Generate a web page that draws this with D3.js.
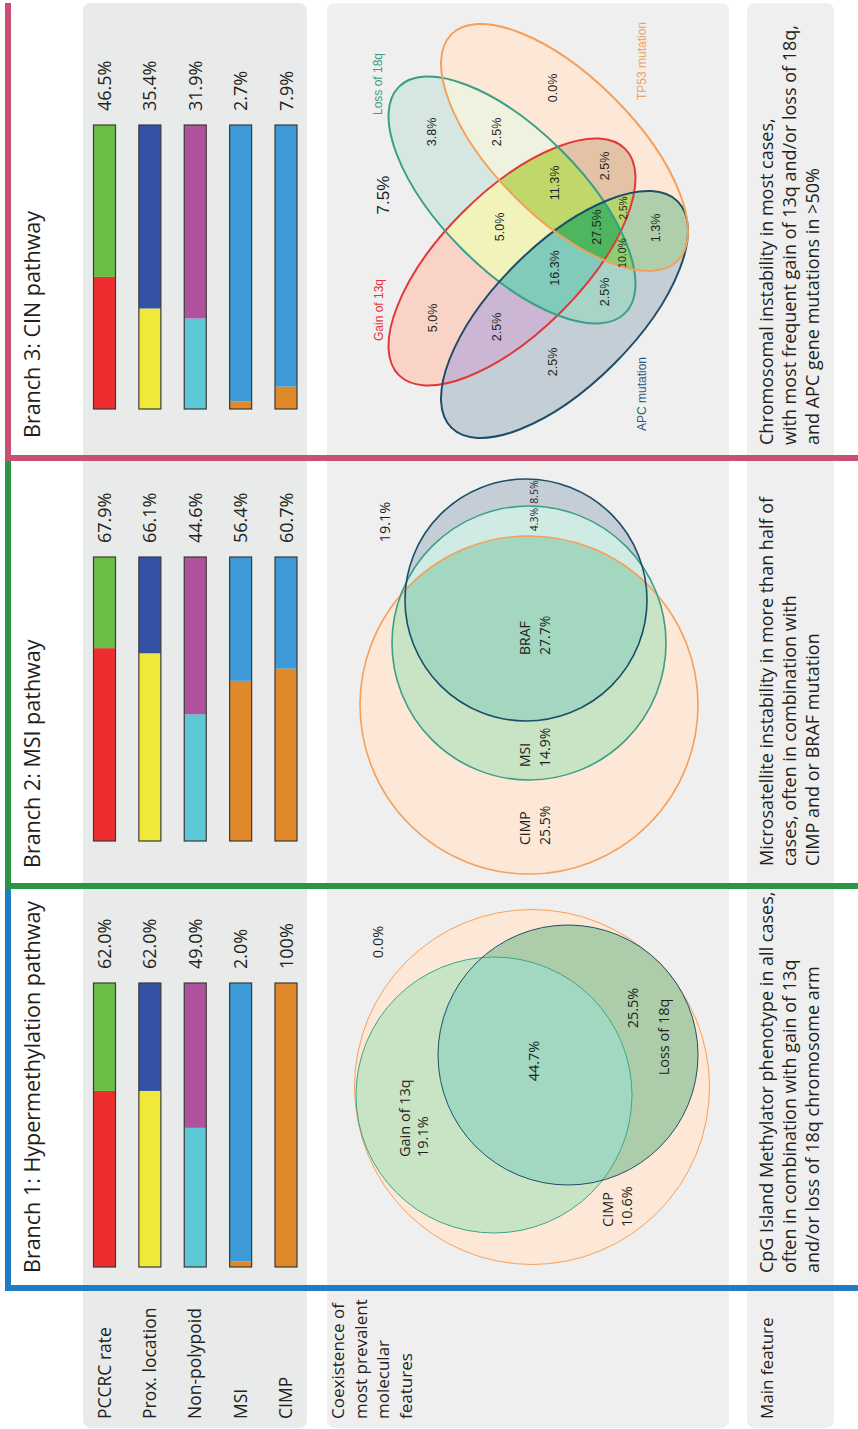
<!DOCTYPE html>
<html>
<head>
<meta charset="utf-8">
<script src="https://cdn.jsdelivr.net/npm/d3@7"></script>
<style>
  body { margin: 0; background: #fff; }
  text { font-family: "Open Sans", sans-serif; fill: #231f20; }
  .arial { font-family: "Liberation Sans", Arial, sans-serif; }
</style>
</head>
<body>
<svg width="858" height="1429"></svg>
<script>
// ---- data ----
const rowLabels = ["PCCRC rate", "Prox. location", "Non-polypoid", "MSI", "CIMP"];
const branchTitles = ["Branch 1: Hypermethylation pathway", "Branch 2: MSI pathway", "Branch 3: CIN pathway"];
const hyperValues = [62.0, 62.0, 49.0, 2.0, 100];
const msiValues = [67.9, 66.1, 44.6, 56.4, 60.7];
const cinValues = [46.5, 35.4, 31.9, 2.7, 7.9];

const coexLabel = ["Coexistence of", "most prevalent", "molecular", "features"];
const mainLabel = "Main feature";
const mainFeatures = [
  ["CpG Island Methylator phenotype in all cases,", "often in combination with gain of 13q", "and/or loss of 18q chromosome arm"],
  ["Microsatellite instability in more than half of", "cases, often in combination with", "CIMP and or BRAF mutation"],
  ["Chromosomal instability in most cases,", "with most frequent gain of 13q and/or loss of 18q,", "and APC gene mutations in >50%"]
];

// venn regions: key = member sets, value = share of cases
const hyperVennSets = ["CIMP", "Gain of 13q", "Loss of 18q"];
const hyperVennKeys = ["none", "CIMP", "CIMP+Gain", "CIMP+Loss", "CIMP+Gain+Loss"];
const hyperVennValues = [0.0, 10.6, 19.1, 25.5, 44.7];

const msiVennSets = ["CIMP", "MSI", "BRAF"];
const msiVennKeys = ["none", "BRAF", "MSI+BRAF", "CIMP+MSI+BRAF", "CIMP+MSI", "CIMP"];
const msiVennValues = [19.1, 8.5, 4.3, 27.7, 14.9, 25.5];

const cinVennSets = ["Gain of 13q", "Loss of 18q", "APC mutation", "TP53 mutation"];
const cinVennKeys = ["none", "Gain", "Loss", "TP53", "APC", "Loss+TP53", "Gain+APC", "Gain+Loss",
  "Gain+Loss+TP53", "Gain+Loss+APC", "Gain+TP53", "Loss+APC", "Gain+Loss+APC+TP53",
  "Gain+APC+TP53", "Loss+APC+TP53", "APC+TP53"];
const cinVennValues = [7.5, 5.0, 3.8, 0.0, 2.5, 2.5, 2.5, 5.0, 11.3, 16.3, 2.5, 2.5, 27.5, 2.5, 10.0, 1.3];

// ---- layout (figure is drawn landscape then turned a quarter) ----
const W = 1429;
const svg = d3.select("svg");
const defs = svg.append("defs");
const g = svg.append("g").attr("transform", "translate(0," + W + ") rotate(-90)");

const fmt = function(v) { return v === 100 ? "100%" : d3.format(".1f")(v) + "%"; };

// grey row bands
const bands = [[83, 307, "#e9eaea"], [327, 729, "#efefef"], [747, 834, "#efefef"]];
g.selectAll("rect.band").data(bands).join("rect")
    .attr("class", "band")
    .attr("x", 1).attr("y", function(d) { return d[0]; })
    .attr("width", 1425).attr("height", function(d) { return d[1] - d[0]; })
    .attr("rx", 8).attr("fill", function(d) { return d[2]; });

const branches = [
  {u0: 141, u1: 543, bar: 162, title: 156, text: 156, color: "#1e7dc3", values: hyperValues},
  {u0: 543, u1: 971, bar: 588, title: 561, text: 563, color: "#2a9448", values: msiValues},
  {u0: 971, u1: 1426, bar: 1020, title: 991, text: 984, color: "#c85073", values: cinValues}
];

const y = d3.scalePoint().domain(rowLabels).range([104.5, 286]);
const barH = 22;
const valueColor = ["#ee2e2e", "#f0e93a", "#5cc8d6", "#e0892a", "#e0892a"];
const restColor = ["#6cbd45", "#3452a4", "#b0529c", "#3d9ad6", "#3d9ad6"];

// row labels
g.selectAll("text.rowlab").data(rowLabels).join("text")
    .attr("class", "rowlab")
    .attr("x", 10).attr("y", function(d) { return y(d) + 6; })
    .style("font-size", "17.5px")
    .text(function(d) { return d; });

g.selectAll("text.coex").data(coexLabel).join("text")
    .attr("class", "coex")
    .attr("x", 10).attr("y", function(d, i) { return 344 + i * 22.5; })
    .style("font-size", "17px")
    .text(function(d) { return d; });

g.append("text").attr("x", 10).attr("y", 773).style("font-size", "17px").text(mainLabel);

branches.forEach(function(b, k) {
  // frame
  g.append("rect").attr("x", b.u0 - 3).attr("y", 5).attr("width", b.u1 - b.u0 + 3).attr("height", 6).attr("fill", b.color);
  g.append("rect").attr("x", b.u0 - 3).attr("y", 5).attr("width", 6).attr("height", 853).attr("fill", b.color);

  g.append("text").attr("x", b.title).attr("y", 40)
      .style("font-size", "21.5px").text(branchTitles[k]);

  const x = d3.scaleLinear().domain([0, 100]).range([b.bar, b.bar + 284]);
  const bars = g.append("g").selectAll("g").data(b.values).join("g");
  bars.append("rect")
      .attr("x", x(0)).attr("y", function(d, i) { return y(rowLabels[i]) - barH / 2; })
      .attr("width", function(d) { return x(d) - x(0); }).attr("height", barH)
      .attr("fill", function(d, i) { return valueColor[i]; });
  bars.append("rect")
      .attr("x", function(d) { return x(d); }).attr("y", function(d, i) { return y(rowLabels[i]) - barH / 2; })
      .attr("width", function(d) { return x(100) - x(d); }).attr("height", barH)
      .attr("fill", function(d, i) { return restColor[i]; });
  bars.append("rect")
      .attr("x", x(0)).attr("y", function(d, i) { return y(rowLabels[i]) - barH / 2; })
      .attr("width", x(100) - x(0)).attr("height", barH)
      .attr("fill", "none").attr("stroke", "#3a3a3a").attr("stroke-width", 1.2);
  bars.append("text")
      .attr("x", x(100) + 14).attr("y", function(d, i) { return y(rowLabels[i]) + 6.5; })
      .style("font-size", "18px")
      .text(fmt);

  g.selectAll("text.feat" + k).data(mainFeatures[k]).join("text")
      .attr("x", b.text).attr("y", function(d, i) { return 773 + i * 23; })
      .style("font-size", "18px")
      .text(function(d) { return d; });
});

// ---- venn helper: each region = clip by member sets, mask out the others ----
function shapeEl(sel, s) {
  if (s.r) return sel.append("circle").attr("cx", s.cx).attr("cy", s.cy).attr("r", s.r);
  return sel.append("ellipse").attr("rx", s.rx).attr("ry", s.ry)
      .attr("transform", "translate(" + s.cx + "," + s.cy + ") rotate(" + s.angle + ")");
}

function venn(id, shapes, fills, box) {
  shapes.forEach(function(s, i) { shapeEl(defs.append("clipPath").attr("id", id + "c" + i), s); });
  const layer = g.append("g");
  Object.keys(fills).forEach(function(key, k) {
    const members = key.split("+");
    const mask = defs.append("mask").attr("id", id + "m" + k).attr("maskUnits", "userSpaceOnUse")
        .attr("x", box[0]).attr("y", box[1]).attr("width", box[2]).attr("height", box[3]);
    mask.append("rect").attr("x", box[0]).attr("y", box[1]).attr("width", box[2]).attr("height", box[3]).attr("fill", "#fff");
    shapes.forEach(function(s) { if (members.indexOf(s.name) < 0) shapeEl(mask, s).attr("fill", "#000"); });
    let node = layer.append("g").attr("mask", "url(#" + id + "m" + k + ")");
    shapes.forEach(function(s, i) {
      if (members.indexOf(s.name) >= 0) node = node.append("g").attr("clip-path", "url(#" + id + "c" + i + ")");
    });
    node.append("rect").attr("x", box[0]).attr("y", box[1]).attr("width", box[2]).attr("height", box[3]).attr("fill", fills[key]);
  });
  shapes.forEach(function(s) {
    shapeEl(layer, s).attr("fill", "none").attr("stroke", s.stroke).attr("stroke-width", s.sw);
  });
}

function label(txt, u, v, size, anchor, cls, color) {
  const t = g.append("text").attr("x", u).attr("y", v)
      .attr("text-anchor", anchor || "middle").style("font-size", size + "px").text(txt);
  if (cls) t.attr("class", cls);
  if (color) t.style("fill", color);
  return t;
}

// branch 1
venn("h", [
  {name: "CIMP", cx: 342, cy: 532, r: 177.5, stroke: "#f5a05a", sw: 1},
  {name: "Gain", cx: 334, cy: 494, r: 138, stroke: "#3aa58a", sw: 1},
  {name: "Loss", cx: 374, cy: 568, r: 130, stroke: "#1f4e6b", sw: 1}
], {"CIMP": "#fde8d8", "CIMP+Gain": "#c9e4c5", "CIMP+Loss": "#adcdaa", "CIMP+Gain+Loss": "#a2d7c0",
    "Gain": "#c9e4c5", "Loss": "#adcdaa", "Gain+Loss": "#a2d7c0"}, [140, 330, 420, 410]);

const hv = {};
hyperVennKeys.forEach(function(k, i) { hv[k] = fmt(hyperVennValues[i]); });
label(hv["none"], 487, 383, 14.5);
label(hv["CIMP+Gain+Loss"], 368, 539, 14.5);
label(hv["CIMP+Loss"], 421, 638, 14.5);
label(hyperVennSets[1], 272, 410, 14.5, "start");
label(hv["CIMP+Gain"], 272, 428, 14.5, "start");
label(hyperVennSets[0], 202, 613, 14.5, "start");
label(hv["CIMP"], 202, 632, 14.5, "start");
label(hyperVennSets[2], 392, 669, 14.5);

// branch 2
venn("m", [
  {name: "CIMP", cx: 724, cy: 529, r: 169, stroke: "#f5a05a", sw: 1.6},
  {name: "MSI", cx: 786, cy: 529, r: 137, stroke: "#3a9e88", sw: 1.6},
  {name: "BRAF", cx: 829, cy: 526, r: 121, stroke: "#1d4e68", sw: 1.6}
], {"CIMP": "#fde8d8", "CIMP+MSI": "#c8e4c4", "CIMP+MSI+BRAF": "#a3d7bf", "CIMP+BRAF": "#a3d7bf",
    "MSI": "#d2ebe2", "MSI+BRAF": "#d0ebe4", "BRAF": "#c5ced6"}, [545, 330, 425, 410]);

const mv = {};
msiVennKeys.forEach(function(k, i) { mv[k] = fmt(msiVennValues[i]); });
label(mv["none"], 907, 390, 14.5);
label(mv["BRAF"], 937, 538, 10.5);
label(mv["MSI+BRAF"], 909.5, 538, 10.5);
label(msiVennSets[2], 774, 530, 14, "start");
label(mv["CIMP+MSI+BRAF"], 774, 550, 14, "start");
label(msiVennSets[1], 662, 530, 14, "start");
label(mv["CIMP+MSI"], 662, 550, 14, "start");
label(msiVennSets[0], 584, 530, 14, "start");
label(mv["CIMP"], 584, 550, 14, "start");

// branch 3
venn("c", [
  {name: "Gain", cx: 1167, cy: 512, rx: 160, ry: 70, angle: 45, stroke: "#e2373a", sw: 2},
  {name: "Loss", cx: 1229, cy: 512, rx: 160, ry: 70, angle: -45, stroke: "#3a9e88", sw: 2},
  {name: "APC", cx: 1114.5, cy: 564.5, rx: 160, ry: 70, angle: 45, stroke: "#1e4d68", sw: 2},
  {name: "TP53", cx: 1281.5, cy: 564.5, rx: 160, ry: 70, angle: -45, stroke: "#f5a05a", sw: 2}
], {"Gain": "#f8d3c6", "Loss": "#d6e6e0", "TP53": "#fde8d8", "APC": "#c4ced6",
    "Loss+TP53": "#eef2df", "Gain+APC": "#cbb7d3", "Gain+Loss": "#f1f3bb", "Gain+TP53": "#e3c2a5",
    "Loss+APC": "#a8d4c7", "APC+TP53": "#afcfac", "Gain+Loss+TP53": "#c0d86a", "Gain+Loss+APC": "#80cbba",
    "Gain+APC+TP53": "#b6d56e", "Loss+APC+TP53": "#8fcd72", "Gain+Loss+APC+TP53": "#4db65e"},
  [980, 330, 440, 410]);

const cv = {};
cinVennKeys.forEach(function(k, i) { cv[k] = fmt(cinVennValues[i]); });
const cinPos = {
  "none": [1234, 389, 17], "Gain": [1111, 437, 12.5], "Loss": [1297, 436, 12.5], "TP53": [1341, 557, 12.5],
  "APC": [1067, 557, 12.5], "Loss+TP53": [1297, 501, 12.5], "Gain+APC": [1102, 501, 12.5], "Gain+Loss": [1202, 504, 12.5],
  "Gain+Loss+TP53": [1246, 559, 12.5], "Gain+Loss+APC": [1161, 559, 12.5], "Gain+TP53": [1263, 609, 12.5],
  "Loss+APC": [1137, 609, 12.5], "Gain+Loss+APC+TP53": [1202, 601, 12.5], "Gain+APC+TP53": [1221, 627, 10],
  "Loss+APC+TP53": [1176, 626, 10.5], "APC+TP53": [1201, 660, 12.5]
};
cinVennKeys.forEach(function(k) {
  label(cv[k], cinPos[k][0], cinPos[k][1], cinPos[k][2], "middle", "arial");
});
label(cinVennSets[0], 1119, 383, 12, "middle", "arial", "#e2373a");
label(cinVennSets[1], 1345, 382, 12, "middle", "arial", "#3a9e88");
label(cinVennSets[2], 1035, 646, 12, "middle", "arial", "#2b5a78");
label(cinVennSets[3], 1368, 646, 12, "middle", "arial", "#f5a05a");
</script>
</body>
</html>
